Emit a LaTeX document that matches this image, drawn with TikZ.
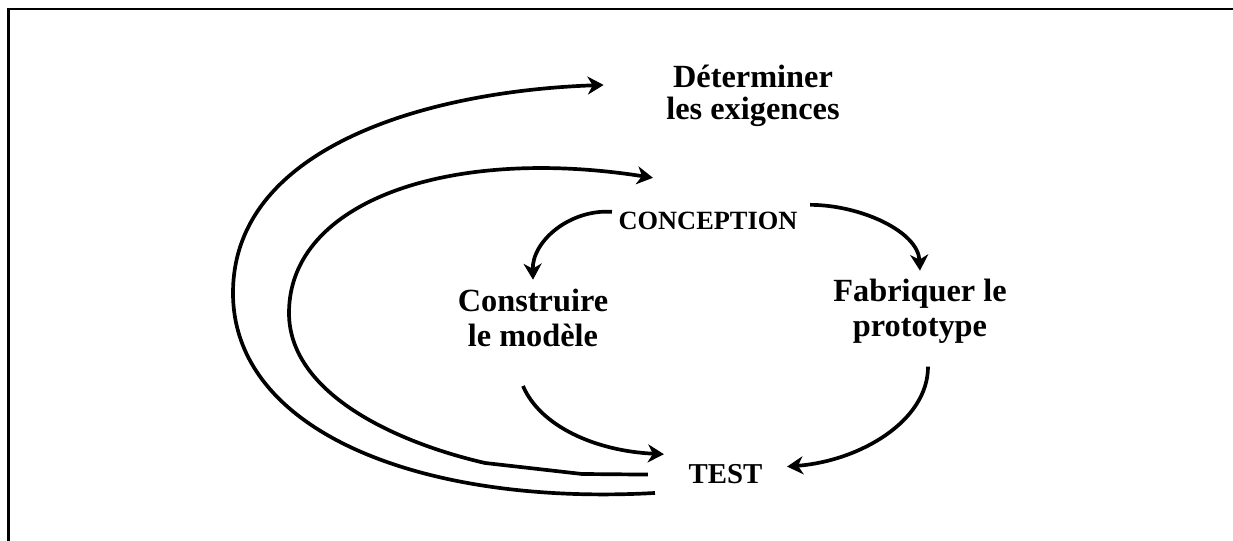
\documentclass[tikz,border=0pt]{standalone}
\usepackage{fontspec}
\setmainfont{Liberation Serif}
\usetikzlibrary{arrows.meta}

\begin{document}
\begin{tikzpicture}[ > = {Stealth[length=1.6mm,width=1.8mm,inset=0.5mm]}, flow/.style = {line width=1.05pt,->}, frame/.style = {line width=0.65pt}, stage/.style = {font=\fontsize{9.2}{10}\selectfont\bfseries, align=center, inner sep=0pt, anchor=base}]

    \useasboundingbox (0,0) rectangle (12.33,5.41);

    % frame
    \draw[frame] (0.085,0) -- (0.085,5.32) -- (12.33,5.32);

    % stages
    \node[stage, font=\fontsize{9.2}{9.1}\selectfont\bfseries] (det) at (7.53,4.21) {Déterminer\\les exigences};
    \node[stage, font=\fontsize{7.5}{9}\selectfont\bfseries] (con) at (7.08,3.11) {CONCEPTION};
    \node[stage] (cons) at (5.33,1.94)  {Construire\\le modèle};
    \node[stage] (fab)  at (9.20,2.04)  {Fabriquer le\\prototype};
    \node[stage, font=\fontsize{8.2}{9}\selectfont\bfseries] (test) at (7.255,0.57) {TEST};

    % inner cycle
    \draw[flow] ([xshift=-0.6mm]con.north west) .. controls (5.7,3.32) and (5.32,3.0) .. ([yshift=0.9mm]cons.north);
    \draw[flow] ([xshift=1.2mm,yshift=0.7mm]con.north east) .. controls (8.6,3.36) and (9.18,3.1) .. ([yshift=0.8mm]fab.north);
    \draw[flow] ([xshift=-1mm,yshift=-3.8mm]cons.south) .. controls (5.4,1.15) and (5.95,0.9) .. ([xshift=-2.4mm,yshift=1mm]test.north west);
    \draw[flow] ([xshift=0.8mm,yshift=-2.2mm]fab.south) .. controls (9.28,1.2) and (8.6,0.8) .. ([xshift=2.4mm,yshift=0.8mm]test.east);

    % feedback loops
    \draw[flow] ([xshift=-4mm]test.west) -- (5.82,0.67) -- (4.85,0.78) .. controls (3.9,1.0) and (2.89,1.5) .. (2.89,2.28) .. controls (2.89,3.4) and (4.5,3.95) .. ([xshift=3.5mm,yshift=3.4mm]con.north west);
    \draw[flow] ([xshift=-3.3mm,yshift=-0.8mm]test.south west) .. controls (4.2,0.35) and (2.33,1.1) .. (2.33,2.48) .. controls (2.33,3.95) and (4.3,4.5) .. ([xshift=-6.2mm,yshift=3.5mm]det.base west);

\end{tikzpicture}
\end{document}
